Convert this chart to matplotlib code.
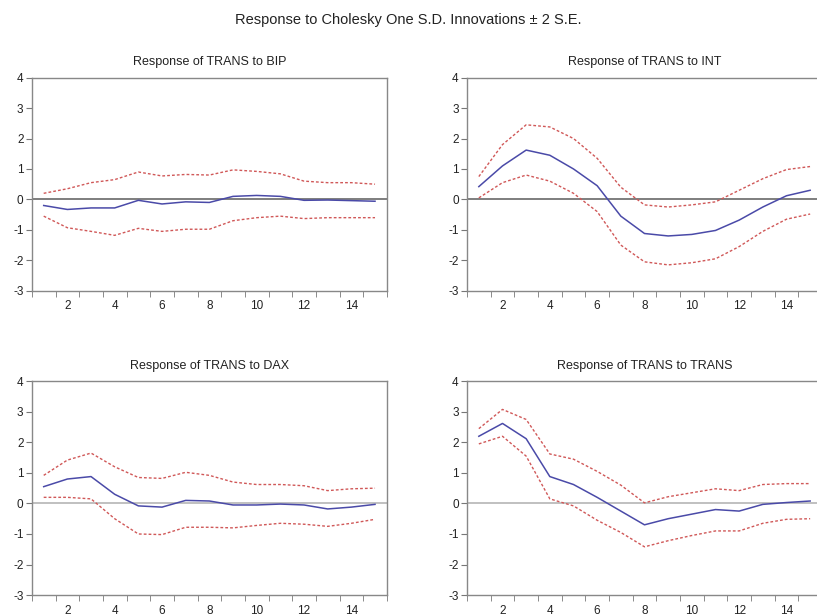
import numpy as np
import matplotlib
matplotlib.use('Agg')
import matplotlib.pyplot as plt

plt.rcParams['font.family'] = ['Liberation Sans', 'DejaVu Sans']
plt.rcParams['axes.unicode_minus'] = False

# Periods after the shock
periods = np.arange(1, 16)

# Response of TRANS to BIP
bip_mean = [-0.20, -0.33, -0.28, -0.28, -0.03, -0.15, -0.08, -0.10, 0.10, 0.13, 0.10, -0.03, -0.02, -0.04, -0.06]
bip_upper = [0.20, 0.35, 0.55, 0.65, 0.90, 0.77, 0.82, 0.80, 0.97, 0.92, 0.84, 0.60, 0.55, 0.55, 0.50]
bip_lower = [-0.55, -0.93, -1.05, -1.18, -0.95, -1.05, -0.98, -0.98, -0.70, -0.60, -0.55, -0.63, -0.60, -0.60, -0.60]

# Response of TRANS to INT
int_mean = [0.42, 1.10, 1.62, 1.45, 1.00, 0.45, -0.55, -1.12, -1.20, -1.15, -1.02, -0.68, -0.25, 0.12, 0.30]
int_upper = [0.75, 1.80, 2.45, 2.38, 2.00, 1.35, 0.40, -0.18, -0.25, -0.18, -0.08, 0.30, 0.68, 0.98, 1.08]
int_lower = [0.05, 0.55, 0.80, 0.60, 0.20, -0.40, -1.50, -2.05, -2.15, -2.08, -1.95, -1.55, -1.05, -0.65, -0.48]

# Response of TRANS to DAX
dax_mean = [0.55, 0.80, 0.88, 0.30, -0.08, -0.12, 0.10, 0.08, -0.05, -0.05, -0.02, -0.05, -0.18, -0.12, -0.03]
dax_upper = [0.92, 1.42, 1.65, 1.20, 0.85, 0.82, 1.02, 0.92, 0.70, 0.62, 0.62, 0.58, 0.42, 0.48, 0.50]
dax_lower = [0.20, 0.20, 0.15, -0.50, -1.00, -1.02, -0.78, -0.78, -0.80, -0.72, -0.65, -0.68, -0.75, -0.65, -0.52]

# Response of TRANS to TRANS
trans_mean = [2.20, 2.62, 2.12, 0.88, 0.62, 0.20, -0.25, -0.70, -0.50, -0.35, -0.20, -0.25, -0.03, 0.03, 0.08]
trans_upper = [2.45, 3.08, 2.75, 1.62, 1.45, 1.05, 0.60, 0.02, 0.22, 0.35, 0.48, 0.42, 0.62, 0.65, 0.65]
trans_lower = [1.95, 2.20, 1.55, 0.15, -0.08, -0.55, -0.95, -1.42, -1.22, -1.05, -0.90, -0.90, -0.65, -0.52, -0.50]

panels = [
    ('Response of TRANS to BIP', bip_mean, bip_upper, bip_lower, [0.039, 0.528, 0.4345, 0.346], '#7e7e7e'),
    ('Response of TRANS to INT', int_mean, int_upper, int_lower, [0.5716, 0.528, 0.4345, 0.346], '#7e7e7e'),
    ('Response of TRANS to DAX', dax_mean, dax_upper, dax_lower, [0.039, 0.034, 0.4345, 0.347], '#c0c0c0'),
    ('Response of TRANS to TRANS', trans_mean, trans_upper, trans_lower, [0.5716, 0.034, 0.4345, 0.347], '#c0c0c0'),
]

fig = plt.figure(figsize=(8.17, 6.16), dpi=100)
fig.text(0.5, 0.968, 'Response to Cholesky One S.D. Innovations \u00b1 2 S.E.',
         ha='center', va='center', fontsize=10.5, color='#222222')

for title, mean, upper, lower, pos, zero_col in panels:
    ax = fig.add_axes(pos)
    ax.axhline(0, color=zero_col, lw=1.4, zorder=1)
    ax.plot(periods, upper, color='#d05858', lw=1.0, ls=(0, (2, 1.5)), zorder=2)
    ax.plot(periods, lower, color='#d05858', lw=1.0, ls=(0, (2, 1.5)), zorder=2)
    ax.plot(periods, mean, color='#4a4aa8', lw=1.1, zorder=3)
    ax.set_xlim(0.5, 15.5)
    ax.set_ylim(-3, 4)
    ax.set_yticks(range(-3, 5))
    ax.set_xticks(range(2, 15, 2))
    ax.set_xticks(np.arange(0.5, 16, 1), minor=True)
    ax.tick_params(axis='x', which='major', length=0, pad=7, labelsize=8.5, colors='#222222')
    ax.tick_params(axis='x', which='minor', length=4, direction='out', color='#777777')
    ax.tick_params(axis='y', length=4, direction='out', color='#777777', labelsize=8.5,
                   labelcolor='#222222', pad=2)
    for sp in ax.spines.values():
        sp.set_color('#888888')
        sp.set_linewidth(1.0)
    ax.set_title(title, fontsize=9, color='#222222', pad=9)

fig.savefig('out.png', dpi=100)
